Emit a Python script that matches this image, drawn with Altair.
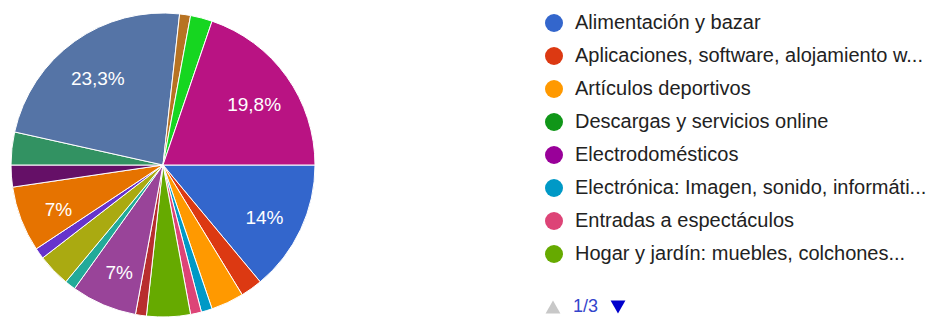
import math
import altair as alt
import pandas as pd

# Categories in slice/legend order (only the first 8 are shown on legend page 1/3)
categorias = [
    "Alimentación y bazar",
    "Aplicaciones, software, alojamiento w...",
    "Artículos deportivos",
    "Descargas y servicios online",
    "Electrodomésticos",
    "Electrónica: Imagen, sonido, informáti...",
    "Entradas a espectáculos",
    "Hogar y jardín: muebles, colchones...",
    "Juguetes y artículos infantiles",
    "Libros electrónicos",
    "Libros, revistas y periódicos",
    "Material de oficina",
    "Medicamentos y parafarmacia",
    "Mascotas",
    "Otros",
    "Películas y música",
    "Productos de belleza",
    "Reservas de alojamiento",
    "Ropa, calzado y complementos",
    "Seguros",
    "Telefonía móvil",
    "Transporte",
    "Viajes",
]
respuestas = [12, 2, 3, 0, 0, 1, 1, 4, 1, 0, 6, 1, 3, 1, 6, 0, 2, 3, 20, 0, 1, 2, 17]
colores = [
    "#3366cc", "#dc3912", "#ff9900", "#109618", "#990099", "#0099c6",
    "#dd4477", "#66aa00", "#b82e2e", "#316395", "#994499", "#22aa99",
    "#aaaa11", "#6633cc", "#e67300", "#8b0707", "#651067", "#329262",
    "#5574a6", "#3b3eac", "#b77322", "#16d620", "#b91383",
]
leyenda_pagina = categorias[:8]
pagina = ["1/3"]

df = pd.DataFrame({
    "categoria": categorias,
    "respuestas": respuestas,
    "orden": list(range(len(categorias))),
})

CX, CY, R = 155, 157, 152

theta = alt.Theta(
    "respuestas:Q", stack=True,
    scale=alt.Scale(range=[math.pi / 2, math.pi / 2 + 2 * math.pi], nice=False, zero=True),
)

base = (
    alt.Chart(df)
    .transform_filter("datum.respuestas > 0")
    .transform_joinaggregate(total="sum(respuestas)")
    .transform_calculate(pct="round(datum.respuestas / datum.total * 1000) / 10")
    .transform_calculate(
        etiqueta="datum.pct >= 5 ? replace(toString(datum.pct), '.', ',') + '%' : ''"
    )
)

arcs = base.mark_arc(outerRadius=R, stroke="white", strokeWidth=1).encode(
    theta=theta,
    color=alt.Color(
        "categoria:N",
        scale=alt.Scale(domain=categorias, range=colores),
        legend=alt.Legend(values=leyenda_pagina),
    ),
    order=alt.Order("orden:Q"),
    x=alt.value(CX),
    y=alt.value(CY),
)

labels = base.mark_text(
    radius=112, fontSize=19, font="Liberation Sans", color="white",
    align="center", baseline="middle", dy=5,
).encode(
    theta=theta,
    text="etiqueta:N",
    order=alt.Order("orden:Q"),
    x=alt.value(CX),
    y=alt.value(CY),
)

pag_df = pd.DataFrame({"pagina": pagina})
up = alt.Chart(pag_df).mark_point(
    shape="triangle-up", filled=True, size=220, color="#c8c8c8", opacity=1
).encode(x=alt.value(545), y=alt.value(299))
down = alt.Chart(pag_df).mark_point(
    shape="triangle-down", filled=True, size=220, color="#0000cc", opacity=1
).encode(x=alt.value(610), y=alt.value(299))
txt = alt.Chart(pag_df).mark_text(
    align="left", baseline="middle", fontSize=18, font="Liberation Sans", color="#3344cc"
).encode(text="pagina:N", x=alt.value(565), y=alt.value(299))

chart = (
    alt.layer(arcs, labels, up, down, txt)
    .properties(width=920, height=310, padding=0, autosize=alt.AutoSizeParams(type="none"))
    .configure_view(strokeWidth=0)
    .configure_legend(
        orient="none", legendX=536, legendY=5, title=None,
        symbolType="circle", symbolSize=324, symbolStrokeWidth=0, symbolOpacity=1,
        labelFont="Liberation Sans", labelFontSize=20, labelColor="#222222",
        labelOffset=11, rowPadding=13, labelLimit=500, padding=0,
    )
)

chart.save("out.html", embed_options={"renderer": "svg", "actions": False})
